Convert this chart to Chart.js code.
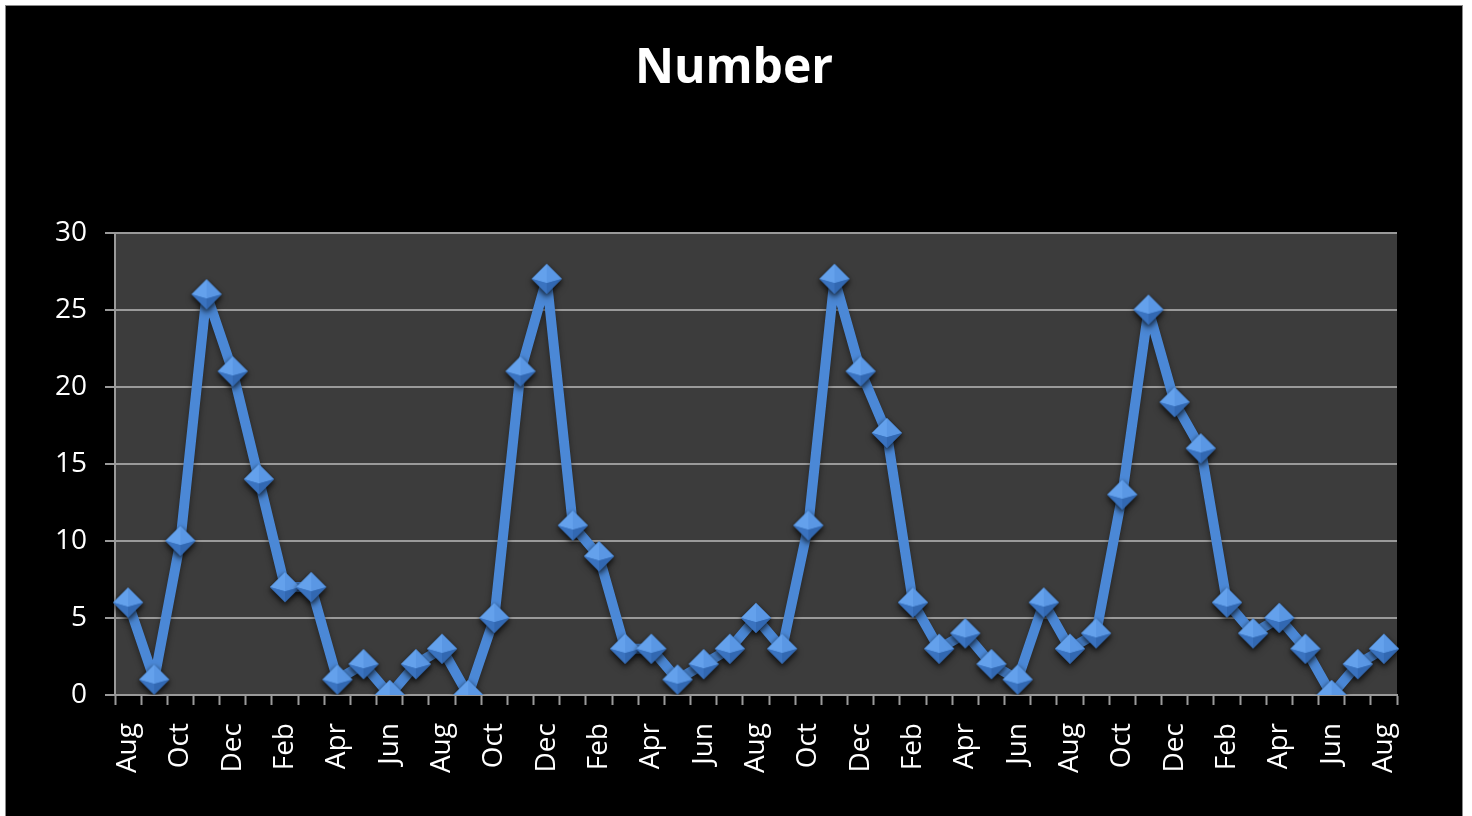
<!DOCTYPE html>
<html>
<head>
<meta charset="utf-8">
<title>Number</title>
<script src="https://cdn.jsdelivr.net/npm/chart.js@4.4.1/dist/chart.umd.min.js"></script>
<style>
  html, body { margin: 0; padding: 0; background: #ffffff; }
  #wrap { position: relative; width: 1472px; height: 816px; }
</style>
</head>
<body>
<div id="wrap"><canvas id="chart" width="1472" height="816"></canvas></div>
<script>
// Monthly counts, August through August over four seasons
const months = [
  'Aug', 'Sep', 'Oct', 'Nov', 'Dec', 'Jan', 'Feb', 'Mar', 'Apr', 'May', 'Jun', 'Jul',
  'Aug', 'Sep', 'Oct', 'Nov', 'Dec', 'Jan', 'Feb', 'Mar', 'Apr', 'May', 'Jun', 'Jul',
  'Aug', 'Sep', 'Oct', 'Nov', 'Dec', 'Jan', 'Feb', 'Mar', 'Apr', 'May', 'Jun', 'Jul',
  'Aug', 'Sep', 'Oct', 'Nov', 'Dec', 'Jan', 'Feb', 'Mar', 'Apr', 'May', 'Jun', 'Jul',
  'Aug'
];
const numberValues = [
  6, 1, 10, 26, 21, 14, 7, 7, 1, 2, 0, 2,
  3, 0, 5, 21, 27, 11, 9, 3, 3, 1, 2, 3,
  5, 3, 11, 27, 21, 17, 6, 3, 4, 2, 1, 6,
  3, 4, 13, 25, 19, 16, 6, 4, 5, 3, 0, 2,
  3
];
const yTicks = [0, 5, 10, 15, 20, 25, 30];

const FONT = '"Open Sans", "DejaVu Sans", sans-serif';
const LINE_BLUE = '#4b88d6';
const GRID_GREY = '#9a9a9a';

// Bevelled diamond marker
function makeDiamond(r) {
  const pad = 6;
  const size = 2 * (r + pad);
  const c = document.createElement('canvas');
  c.width = size; c.height = size;
  const g = c.getContext('2d');
  const cx = size / 2, cy = size / 2;
  const top = [cx, cy - r], bottom = [cx, cy + r], left = [cx - r, cy], right = [cx + r, cy];
  const mid = [cx, cy + r * 0.28];
  // soft dark halo
  g.save();
  g.shadowColor = 'rgba(0,0,0,0.55)';
  g.shadowBlur = 5;
  g.shadowOffsetY = 2;
  g.beginPath();
  g.moveTo(...top); g.lineTo(...right); g.lineTo(...bottom); g.lineTo(...left); g.closePath();
  g.fillStyle = '#3f79c4';
  g.fill();
  g.restore();
  const facet = (pts, col) => {
    g.beginPath();
    g.moveTo(...pts[0]);
    for (let i = 1; i < pts.length; i++) g.lineTo(...pts[i]);
    g.closePath();
    g.fillStyle = col;
    g.fill();
  };
  facet([left, top, mid], '#64a1ec');
  facet([top, right, mid], '#5a97e4');
  facet([left, mid, bottom], '#3a73c0');
  facet([mid, right, bottom], '#3268b2');
  return c;
}
const diamond = makeDiamond(15);

const backdrop = {
  id: 'backdrop',
  beforeDraw(chart) {
    const { ctx, chartArea: a } = chart;
    ctx.save();
    ctx.fillStyle = '#ffffff';
    ctx.fillRect(0, 0, chart.width, chart.height);
    ctx.fillStyle = '#8a8a8a';
    ctx.fillRect(5, 5, 1458, 811);
    ctx.fillStyle = '#000000';
    ctx.fillRect(6, 6, 1456, 810);
    ctx.fillStyle = '#3c3c3c';
    ctx.fillRect(a.left, a.top, a.right - a.left, a.bottom - a.top);
    ctx.restore();
  }
};

const lineShadow = {
  id: 'lineShadow',
  beforeDatasetDraw(chart) {
    const ctx = chart.ctx;
    ctx.save();
    ctx.shadowColor = 'rgba(0,0,0,0.45)';
    ctx.shadowBlur = 6;
    ctx.shadowOffsetY = 3;
  },
  afterDatasetDraw(chart) {
    chart.ctx.restore();
  }
};

new Chart(document.getElementById('chart'), {
  type: 'line',
  data: {
    labels: months,
    datasets: [{
      label: 'Number',
      data: numberValues,
      borderColor: LINE_BLUE,
      borderWidth: 10,
      borderJoinStyle: 'round',
      tension: 0,
      pointStyle: diamond,
      pointRadius: 15,
      pointHoverRadius: 15
    }]
  },
  options: {
    responsive: false,
    animation: false,
    events: [],
    layout: { padding: { left: 6, right: 10, top: 6, bottom: 0 } },
    plugins: {
      legend: { display: false },
      tooltip: { enabled: false },
      title: {
        display: true,
        text: 'Number',
        color: '#ffffff',
        font: { family: FONT, size: 48, weight: 'bold', lineHeight: 1.2 },
        padding: { top: 35, bottom: 134 }
      }
    },
    scales: {
      x: {
        offset: true,
        grid: {
          offset: true,
          drawOnChartArea: false,
          drawTicks: true,
          tickLength: 10,
          tickColor: GRID_GREY,
          tickWidth: 2
        },
        border: { display: true, color: GRID_GREY, width: 2 },
        ticks: {
          autoSkip: false,
          minRotation: 90,
          maxRotation: 90,
          padding: 18,
          color: '#ffffff',
          font: { family: FONT, size: 28 },
          callback: (v, i) => (i % 2 === 0 ? months[i] : '')
        },
        afterFit: s => { s.height = 121; }
      },
      y: {
        min: 0,
        max: 30,
        afterBuildTicks: s => { s.ticks = yTicks.map(v => ({ value: v })); },
        grid: {
          color: GRID_GREY,
          lineWidth: 2,
          drawTicks: true,
          tickLength: 10
        },
        border: { display: true, color: GRID_GREY, width: 2 },
        ticks: {
          padding: 18,
          color: '#ffffff',
          font: { family: FONT, size: 28 }
        },
        afterFit: s => { s.width = 109; }
      },
      // empty right-hand margin so the plot ends short of the frame
      margin: {
        type: 'linear',
        position: 'right',
        display: true,
        grid: { display: false, drawTicks: false },
        border: { display: false },
        ticks: { display: false },
        afterFit: s => { s.width = 1472 - 10 - 1397; }
      }
    }
  },
  plugins: [backdrop, lineShadow]
});
</script>
</body>
</html>
